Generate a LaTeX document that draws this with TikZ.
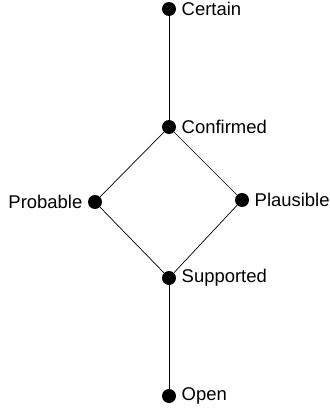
\documentclass[tikz,border=0pt]{standalone}
\usepackage{fontspec}
\setmainfont{Liberation Sans}
\usetikzlibrary{positioning}

\begin{document}
\begin{tikzpicture}[x=0.02cm,y=-0.02cm,
		dot/.style={circle,fill=black,inner sep=0pt,minimum size=0.28cm},
		lab/.style={font=\fontsize{10.5}{12}\selectfont,inner sep=0pt}]
		\useasboundingbox (0,0) rectangle (330,412);
		\node[dot](certain) at (169,9){};
		\node[dot](confirmed) at (169,127){};
		\node[dot](probable) at (95,202){};
		\node[dot](plausible) at (242,200){};
		\node[dot](supported) at (169,278){};
		\node[dot](open) at (169,396){};

		\node[lab,right=0.1cm of certain]{Certain};
		\node[lab,right=0.1cm of confirmed]{Confirmed};
		\node[lab,left=0.1cm of probable]{Probable};
		\node[lab,right=0.1cm of plausible]{Plausible};
		\node[lab,right=0.1cm of supported]{Supported};
		\node[lab,right=0.1cm of open]{Open};

		\draw (certain)--(confirmed);
		\draw (confirmed)--(probable)--(supported);
		\draw (confirmed)--(plausible)--(supported);
		\draw (supported)--(open);
	\end{tikzpicture}
\end{document}
